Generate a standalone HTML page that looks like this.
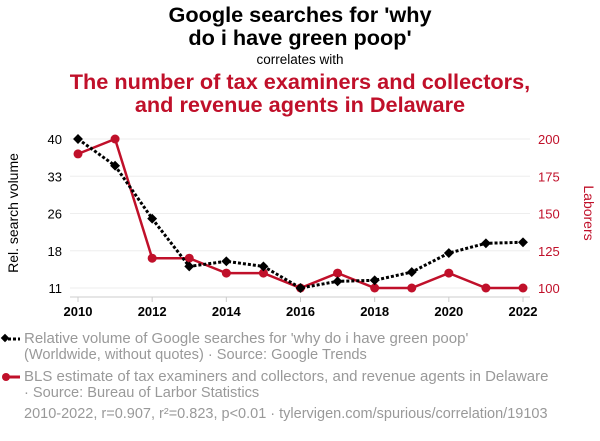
<!DOCTYPE html>
<html><head><meta charset="utf-8"><style>
body{margin:0;background:#fff;width:600px;height:436px;overflow:hidden;font-family:"Liberation Sans",sans-serif}
</style></head><body>
<svg width="600" height="436" id="c">
<text x="300" y="22" text-anchor="middle" font-size="21.7" font-weight="bold" fill="#000">Google searches for 'why</text>
<text x="300" y="45" text-anchor="middle" font-size="21.7" font-weight="bold" fill="#000">do i have green poop'</text>
<text x="300" y="64" text-anchor="middle" font-size="13.5" fill="#000">correlates with</text>
<text x="300" y="89" text-anchor="middle" font-size="21.7" font-weight="bold" fill="#c0102a">The number of tax examiners and collectors,</text>
<text x="300" y="112" text-anchor="middle" font-size="21.7" font-weight="bold" fill="#c0102a">and revenue agents in Delaware</text>
<text transform="translate(18,213) rotate(-90)" text-anchor="middle" font-size="14" fill="#000">Rel. search volume</text>
<text transform="translate(584,213) rotate(90)" text-anchor="middle" font-size="14" fill="#c0102a">Laborers</text>
<g id="grid"></g><g id="axes"></g><g id="series"></g>
<g>
<line x1="3" y1="339" x2="20" y2="339" stroke="#000" stroke-width="3" stroke-dasharray="3,2"/>
<rect x="2" y="335" width="6" height="6" transform="rotate(45 5 338)" fill="#000"/>
<text x="24" y="343" font-size="15" fill="#999">Relative volume of Google searches for 'why do i have green poop'</text>
<text x="24" y="359" font-size="14.6" fill="#999">(Worldwide, without quotes) · Source: Google Trends</text>
<line x1="3" y1="377" x2="20" y2="377" stroke="#c0102a" stroke-width="3"/>
<circle cx="6" cy="377" r="4" fill="#c0102a"/>
<text x="24" y="381" font-size="15" fill="#999">BLS estimate of tax examiners and collectors, and revenue agents in Delaware</text>
<text x="24" y="397" font-size="14.6" fill="#999">· Source: Bureau of Larbor Statistics</text>
<text x="24" y="418" font-size="14.5" fill="#999">2010-2022, r=0.907, r²=0.823, p&lt;0.01 · tylervigen.com/spurious/correlation/19103</text>
</g>
</svg>
<script>
const years=[2010,2011,2012,2013,2014,2015,2016,2017,2018,2019,2020,2021,2022];
const searches=[40,34.8,24.5,15.2,16.2,15.2,11,12.3,12.5,14.1,17.8,19.7,19.9];
const laborers=[190,200,120,120,110,110,100,110,100,100,110,100,100];
const leftTicks=[40,32.75,25.5,18.25,11];
const rightTicks=[200,175,150,125,100];
const xTicks=[2010,2012,2014,2016,2018,2020,2022];
const NS="http://www.w3.org/2000/svg";
const X=v=>78+(v-2010)*(523-78)/12;
const YL=v=>288-(v-11)*(288-139)/29;
const YR=v=>288-(v-100)*(288-139)/100;
function mk(t,a,p){const e=document.createElementNS(NS,t);for(const k in a)e.setAttribute(k,a[k]);p.appendChild(e);return e;}
const grid=document.getElementById('grid'),axes=document.getElementById('axes'),ser=document.getElementById('series');
leftTicks.forEach(v=>{const y=YL(v);
 const g=mk('line',{x1:70,x2:530,y1:y,y2:y,stroke:'#eee','stroke-width':1},grid);
 
 
 const t=mk('text',{x:62,y:y+5,'text-anchor':'end','font-size':13,fill:'#000'},axes);t.textContent=Math.round(v);
 
 });
rightTicks.forEach(v=>{const t=mk('text',{x:538,y:YR(v)+5,'font-size':13,fill:'#c0102a'},axes);t.textContent=v;
 
 });
mk('line',{x1:70,x2:530,y1:297,y2:297,stroke:'#ccc'},axes);
xTicks.forEach(v=>{mk('line',{x1:X(v),x2:X(v),y1:297,y2:302,stroke:'#ccc'},axes);
 const t=mk('text',{x:X(v),y:316,'text-anchor':'middle','font-size':13,'font-weight':'bold',fill:'#000'},axes);t.textContent=v;
 
 });
const rl=mk('polyline',{points:years.map((y,i)=>X(y)+','+YR(laborers[i])).join(' '),fill:'none',stroke:'#c0102a','stroke-width':2.5},ser);


years.forEach((y,i)=>{const c=mk('circle',{cx:X(y),cy:YR(laborers[i]),r:4.5,fill:'#c0102a'},ser);
 
 });
const bl=mk('polyline',{points:years.map((y,i)=>X(y)+','+YL(searches[i])).join(' '),fill:'none',stroke:'#000','stroke-width':3,'stroke-dasharray':'3,2'},ser);


years.forEach((y,i)=>{const cx=X(y),cy=YL(searches[i]);
 const r=mk('rect',{x:cx-3.5,y:cy-3.5,width:7,height:7,fill:'#000',transform:`rotate(45 ${cx} ${cy})`},ser);
 
 });
</script>
</body></html>
